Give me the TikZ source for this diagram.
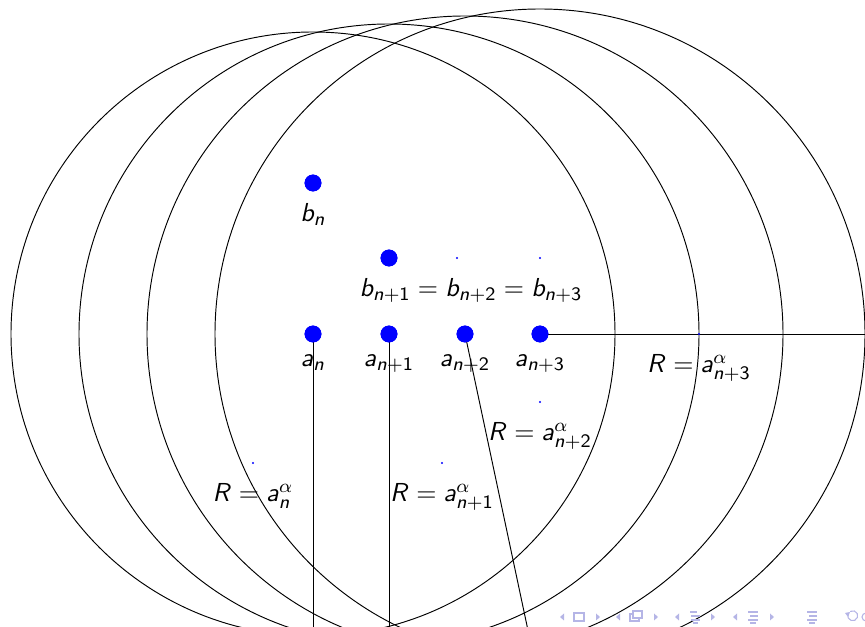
\documentclass[tikz,border=0pt,11pt]{standalone}
\usetikzlibrary{positioning,calc}
% sans letters in math, as on the slide
\DeclareSymbolFont{sfletters}{OT1}{cmss}{m}{sl}
\SetSymbolFont{operators}{normal}{OT1}{cmss}{m}{n}
\DeclareMathSymbol{a}{\mathalpha}{sfletters}{`a}
\DeclareMathSymbol{b}{\mathalpha}{sfletters}{`b}
\DeclareMathSymbol{n}{\mathalpha}{sfletters}{`n}
\DeclareMathSymbol{R}{\mathalpha}{sfletters}{`R}
\definecolor{navblue}{RGB}{181,181,230}
\tikzset{
  bigpt/.style ={circle, fill=blue, inner sep=0pt, minimum size=7.1pt},
  tinypt/.style={circle, fill=blue, inner sep=0pt, minimum size=0.9pt},
  lbl/.style   ={anchor=base, inner sep=0pt},
  navfill/.style={fill=navblue, draw=none},
  navline/.style={draw=navblue, line width=0.45pt},
}
\begin{document}
\begin{tikzpicture}[x=0.421pt, y=-0.421pt]
\useasboundingbox (0,0) rectangle (865,627);
% points
\node[bigpt] (bn)  at (313,183) {};
\node[bigpt] (bn1) at (389,258) {};
\node[tinypt] (bn2) at (457,258) {};
\node[tinypt] (bn3) at (540,258) {};
\node[bigpt] (an)  at (313,334) {};
\node[bigpt] (an1) at (389,334) {};
\node[bigpt] (an2) at (465,334) {};
\node[bigpt] (an3) at (540,334) {};
% circles R = a^alpha
\draw (an.center)  circle[radius=302];
\draw (an1.center) circle[radius=310];
\draw (an2.center) circle[radius=318];
\draw (an3.center) circle[radius=325];
% radii
\coordinate (en)  at ($(an.center)+(0,302)$);
\coordinate (en1) at ($(an1.center)+(0,310)$);
\coordinate (en2) at ($(an2.center)+(78:318)$);
\coordinate (en3) at ($(an3.center)+(325,0)$);
\draw (an.center) -- (en);
\draw (an1.center) -- (en1);
\draw (an2.center) -- (en2);
\draw (an3.center) -- (en3);
\foreach \p in {an,an1,an2,an3,bn,bn1} \node[bigpt] at (\p) {};
% radius marks
\node[tinypt] (mn)  at (253,463) {};
\node[tinypt] (mn1) at (442,463) {};
\node[tinypt] (mn2) at (540,402) {};
\node[tinypt] (mn3) at (699,334) {};
% labels
\node[lbl] (lbn)  at (313,222) {$b_n$};
\node[lbl] (lbn1) at (471,297) {$b_{n+1} = b_{n+2} = b_{n+3}$};
\node[lbl] (lan)  at (313,367) {$a_n$};
\node[lbl] (lan1) at (389,367) {$a_{n+1}$};
\node[lbl] (lan2) at (465,367) {$a_{n+2}$};
\node[lbl] (lan3) at (540,367) {$a_{n+3}$};
\node[lbl] (ln)  at (253,502) {$R = a_n^\alpha$};
\node[lbl] (ln1) at (442,502) {$R = a_{n+1}^\alpha$};
\node[lbl] (ln2) at (540,441) {$R = a_{n+2}^\alpha$};
\node[lbl] (ln3) at (699,373) {$R = a_{n+3}^\alpha$};
% navigation symbols
\foreach \x in {562,618,677,735}
  \fill[navfill] (\x+2,613.5) -- (\x-2,617) -- (\x+2,620.5) -- cycle;
\foreach \x in {598,656,713,772}
  \fill[navfill] (\x-2,613.5) -- (\x+2,617) -- (\x-2,620.5) -- cycle;
\draw[navline] (574,613) rectangle (584,621);
\draw[navline, fill=white] (630,614) rectangle (639,621);
\draw[navline, fill=white] (633,611) rectangle (642,618);
\draw[navline] (690,612) -- (697,612) (691,616) -- (700,616) (691,620) -- (700,620) (693,623) -- (698,623);
\draw[navline] (748,612) -- (758,612) (750,616) -- (758,616) (748,620) -- (758,620) (750,623) -- (756,623);
\draw[navline] (807,612) -- (817,612) (809,616) -- (817,616) (807,620) -- (817,620) (809,623) -- (815,623);
\draw[navline] (848,614) arc[start angle=200, end angle=-120, radius=5];
\fill[navfill] (845,613) -- (850,612) -- (848,617) -- cycle;
\draw[navline] (866,617) circle[radius=4];
\end{tikzpicture}
\end{document}
